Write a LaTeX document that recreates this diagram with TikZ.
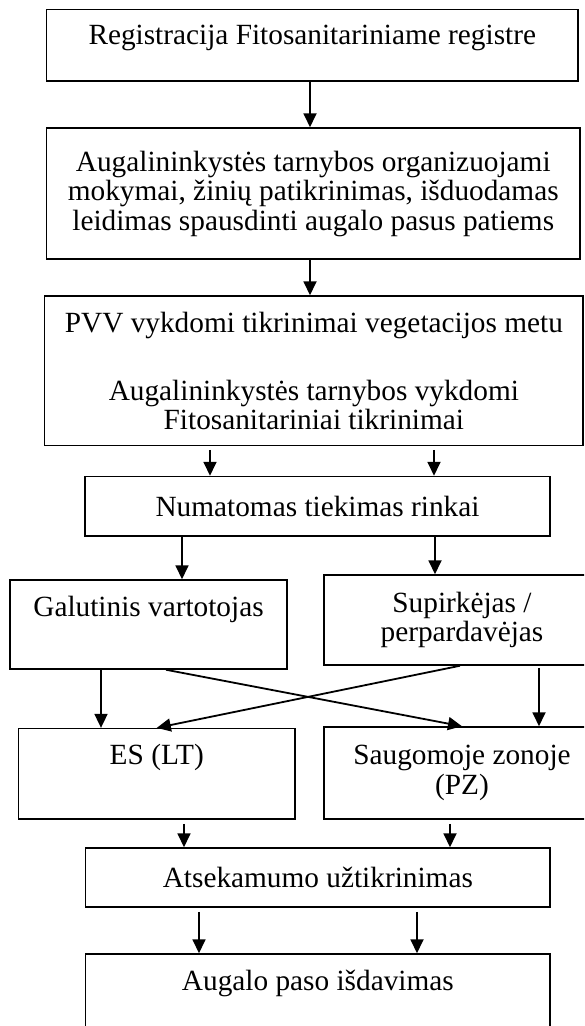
\documentclass[tikz,border=0pt]{standalone}
\usepackage{fontspec}
\setmainfont{Liberation Serif}
\usepackage{tikz}
\usetikzlibrary{arrows.meta}
\tikzset{box/.style={draw, line width=1.5pt, align=center, inner sep=0pt},
    toptext/.style={text height=20pt, text depth=#1},
    arr/.style={draw, line width=1.8pt, -{Triangle[length=14pt,width=13pt]}}}

\begin{document}
\begin{tikzpicture}[x=1pt, y=-1pt,
        every node/.style={font=\fontsize{29.3}{29.5}\selectfont}]
    \useasboundingbox (0,0) rectangle (584,1026);
    \clip (0,0) rectangle (584,1026);
    % boxes
    \node[box, minimum width=531.5pt, minimum height=71.7pt, toptext=21pt] (reg) at (312.25,45.2)
        {Registracija Fitosanitariniame registre};
    \node[box, minimum width=533.5pt, minimum height=131pt] (moky) at (313.25,193.5)
        {Augalininkystės tarnybos organizuojami\\ mokymai, žinių patikrinimas, išduodamas\\ leidimas spausdinti augalo pasus patiems};
    \node[box, minimum width=538.3pt, minimum height=149.5pt] (tikr) at (313.85,370.75)
        {PVV vykdomi tikrinimai vegetacijos metu\\[38.5pt] Augalininkystės tarnybos vykdomi\\ Fitosanitariniai tikrinimai};
    \node[box, minimum width=465pt, minimum height=59.5pt] (rinka) at (317.5,506.25)
        {Numatomas tiekimas rinkai};
    \node[box, minimum width=277pt, minimum height=89pt, toptext=37pt] (galut) at (148.5,624.5)
        {Galutinis vartotojas};
    \node[box, minimum width=276pt, minimum height=90pt] (supirk) at (462,620)
        {Supirkėjas /\\ perpardavėjas};
    \node[box, minimum width=276.4pt, minimum height=90.4pt, toptext=39pt] (es) at (156.8,773.8)
        {ES (LT)};
    \node[box, minimum width=276pt, minimum height=92pt] (pz) at (462,773)
        {Saugomoje zonoje\\ (PZ)};
    \node[box, minimum width=464.3pt, minimum height=59pt] (atsek) at (317.85,877.5)
        {Atsekamumo užtikrinimas};
    \node[box, minimum width=464.3pt, minimum height=90pt, toptext=37pt] (pasas) at (317.85,999)
        {Augalo paso išdavimas};
    % arrows
    \draw[arr] (reg.south -| 310,0) -- (moky.north -| 310,0);
    \draw[arr] (moky.south -| 310,0) -- (tikr.north -| 310,0);
    \draw[arr, shorten <=3.5pt] (tikr.south -| 210,0) -- (rinka.north -| 210,0);
    \draw[arr, shorten <=3.5pt] (tikr.south -| 434,0) -- (rinka.north -| 434,0);
    \draw[arr] (rinka.south -| 182,0) -- (galut.north -| 182,0);
    \draw[arr] (rinka.south -| 435,0) -- (supirk.north -| 435,0);
    \draw[arr] (galut.south -| 101,0) -- (es.north -| 101,0);
    \draw[arr] (galut.south -| 166,0) -- (pz.north);
    \draw[arr] (supirk.south -| 460,0) -- (es.north);
    \draw[arr, shorten <=2pt] (supirk.south -| 539,0) -- (pz.north -| 539,0);
    \draw[arr, shorten <=4pt] (es.south -| 184,0) -- (atsek.north -| 184,0);
    \draw[arr, shorten <=4pt] (pz.south -| 450,0) -- (atsek.north -| 450,0);
    \draw[arr, shorten <=4pt] (atsek.south -| 199,0) -- (pasas.north -| 199,0);
    \draw[arr, shorten <=4pt] (atsek.south -| 417,0) -- (pasas.north -| 417,0);
\end{tikzpicture}
\end{document}
